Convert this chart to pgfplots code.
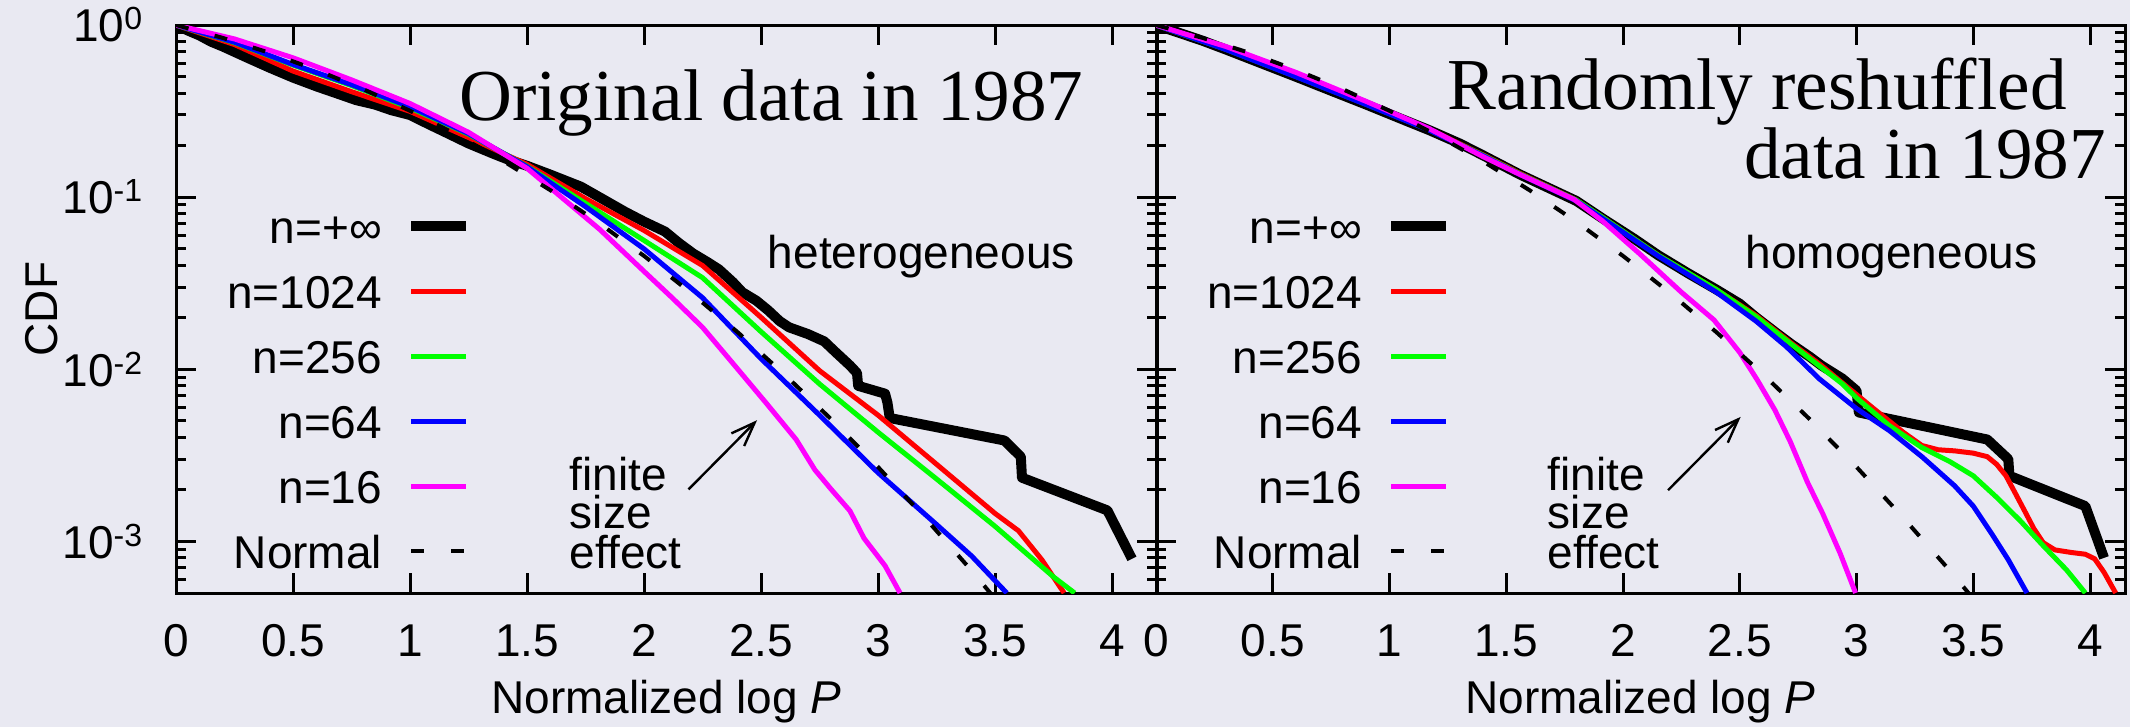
\documentclass[border=0pt]{standalone}
\usepackage{fontspec}
\setmainfont{Liberation Sans}
\newfontfamily\seriffont{Liberation Serif}
\usepackage{pgfplots}
\pgfplotsset{compat=1.18}
\usetikzlibrary{arrows.meta}

\definecolor{bgpanel}{RGB}{233,233,242}
\definecolor{cred}{RGB}{255,0,0}
\definecolor{cgreen}{RGB}{0,255,0}
\definecolor{cblue}{RGB}{0,0,255}
\definecolor{cmag}{RGB}{255,0,255}

\newcommand{\tenpow}[1]{10\raisebox{3pt}{\fontsize{8pt}{8pt}\selectfont#1}}
\newcommand{\lbl}{\fontsize{11.5pt}{13pt}\selectfont}
\newcommand{\ttl}{\seriffont\fontsize{18.3pt}{20pt}\selectfont}

\tikzset{
  ninf/.style={black, line width=2.5pt, line join=round},
  n1024/.style={cred, line width=1.25pt},
  n256/.style={cgreen, line width=1.25pt},
  n64/.style={cblue, line width=1.25pt},
  n16/.style={cmag, line width=1.25pt},
  gauss/.style={black, line width=1pt, dash pattern=on 3.25pt off 6.75pt},
}
\pgfplotsset{legend image code/.code={\draw[#1] (0pt,0pt) -- (13.75pt,0pt);}}

\begin{document}
\begin{tikzpicture}
\path[use as bounding box, fill=bgpanel] (0,0) rectangle (532.5pt,181.75pt);

%% left panel: original data
\begin{axis}[at={(44pt,33.5pt)}, anchor=south west,
  scale only axis, width=245.25pt, height=142pt,
  ymode=log, ymin=5e-4, ymax=1, xmin=0, xmax=4.192,
  xtick={0,0.5,1,1.5,2,2.5,3,3.5,4},
  xticklabels={0,0.5,1,1.5,2,2.5,3,3.5,4},
  ytick={0.001,0.01,0.1,1},
  yticklabels={\tenpow{-3},\tenpow{-2},\tenpow{-1},\tenpow{0}},
  minor ytick={0.0005,0.0006,0.0007,0.0008,0.0009,
    0.002,0.003,0.004,0.005,0.006,0.007,0.008,0.009,
    0.02,0.03,0.04,0.05,0.06,0.07,0.08,0.09,
    0.2,0.3,0.4,0.5,0.6,0.7,0.8,0.9},
  tick align=inside, xtick pos=both, ytick pos=both,
  major tick length=5pt, minor tick length=2.5pt,
  tick style={black, line width=0.75pt},
  axis line style={line width=0.75pt},
  tick label style={font=\lbl, inner sep=0pt},
  xticklabel style={anchor=base, yshift=-15.75pt},
  yticklabel style={anchor=east, xshift=-8.25pt},
  xlabel={Normalized log \textit{P}},
  x label style={at={(rel axis cs:0.5,-0.2113)}, anchor=base, inner sep=0pt, font=\lbl},
  ylabel={CDF},
  y label style={at={(rel axis cs:-0.1371,0.5)}, anchor=center,
    inner sep=0pt, font=\lbl},
  legend style={draw=none, fill=none, inner sep=0pt, outer sep=0pt,
    at={(0.3012,0.676)}, anchor=north east, font=\lbl, row sep=7.75pt,
    column sep=6.1pt, nodes={inner sep=0pt, text height=8.5pt, text depth=0pt}},
  legend cell align=right, legend plot pos=right]
\addplot[ninf] coordinates {
  (0,1) (0.05,0.93) (0.1,0.87) (0.15,0.8) (0.2,0.75) (0.3,0.65) (0.4,0.565)
  (0.5,0.495) (0.6,0.44) (0.7,0.395) (0.77,0.366) (0.85,0.345) (0.92,0.32)
  (1.0,0.30) (1.08,0.265) (1.16,0.235) (1.25,0.205) (1.35,0.18) (1.42,0.165)
  (1.5,0.152) (1.6,0.135) (1.73,0.115) (1.82,0.098) (1.92,0.082) (2.0,0.072)
  (2.09,0.063) (2.15,0.054) (2.21,0.047) (2.27,0.042) (2.32,0.038)
  (2.38,0.032) (2.42,0.028) (2.48,0.025) (2.53,0.022) (2.58,0.019)
  (2.62,0.0175) (2.7,0.016) (2.77,0.0145) (2.82,0.0125) (2.88,0.0105)
  (2.91,0.0095) (2.915,0.0080) (3.03,0.0072) (3.04,0.0064) (3.05,0.0052)
  (3.54,0.00385) (3.61,0.0031) (3.615,0.00234) (3.98,0.00151) (4.085,0.00079)};
\addplot[n1024] coordinates {
  (0,1) (0.25,0.77) (0.5,0.54) (0.75,0.41) (1.0,0.315) (1.25,0.222)
  (1.5,0.155) (1.75,0.098) (2.0,0.064) (2.25,0.040) (2.5,0.020) (2.75,0.0098)
  (3.0,0.0054) (3.25,0.0028) (3.5,0.00145) (3.6,0.00115) (3.7,0.00078)
  (3.795,0.0005)};
\addplot[n256] coordinates {
  (0,1) (0.25,0.79) (0.5,0.585) (0.75,0.445) (1.0,0.33) (1.25,0.232)
  (1.5,0.151) (1.75,0.092) (2.0,0.056) (2.25,0.034) (2.5,0.0165) (2.75,0.0082)
  (3.0,0.0043) (3.25,0.0023) (3.5,0.00122) (3.75,0.00062) (3.84,0.0005)};
\addplot[n64] coordinates {
  (0,1) (0.25,0.795) (0.5,0.59) (0.75,0.45) (1.0,0.335) (1.25,0.234)
  (1.5,0.15) (1.75,0.088) (2.0,0.050) (2.25,0.026) (2.5,0.0115) (2.75,0.0054)
  (3.0,0.0025) (3.25,0.00125) (3.4,0.00082) (3.55,0.0005)};
\addplot[n16] coordinates {
  (0,1) (0.25,0.83) (0.5,0.645) (0.75,0.48) (1.0,0.35) (1.25,0.238)
  (1.5,0.147) (1.81,0.065) (2.0,0.037) (2.12,0.026) (2.25,0.0175)
  (2.39,0.0104) (2.52,0.0064) (2.65,0.0039) (2.73,0.0026) (2.8,0.0020)
  (2.88,0.0015) (2.94,0.00104) (3.03,0.00072) (3.094,0.0005)};
\addplot[gauss] coordinates {
  (0,1) (0.2,0.8415) (0.4,0.6892) (0.6,0.5485) (0.8,0.4237) (1.0,0.3173)
  (1.2,0.2301) (1.4,0.1615) (1.6,0.1096) (1.8,0.0719) (2.0,0.0455)
  (2.2,0.0278) (2.4,0.0164) (2.6,0.00932) (2.8,0.00511) (3.0,0.00270)
  (3.2,0.00137) (3.4,0.000674) (3.6,0.000318)};
\legend{n=+∞,n=1024,n=256,n=64,n=16,Normal}
\node[anchor=base, inner sep=0pt, font=\ttl] at (rel axis cs:0.607,0.8327) {Original data in 1987};
\node[anchor=base west, inner sep=0pt, font=\lbl] at (rel axis cs:0.6025,0.5722) {heterogeneous};
\node[anchor=base west, inner sep=0pt, font=\lbl] at (rel axis cs:0.4006,0.1813) {finite};
\node[anchor=base west, inner sep=0pt, font=\lbl] at (rel axis cs:0.4006,0.1144) {size};
\node[anchor=base west, inner sep=0pt, font=\lbl] at (rel axis cs:0.4006,0.0440) {effect};
\draw[line width=0.6pt, -{Straight Barb[length=6pt,width=4.5pt]}]
  (axis cs:2.19,0.0020) -- (axis cs:2.483,0.00505);
\end{axis}

%% right panel: reshuffled data
\begin{axis}[at={(289pt,33.5pt)}, anchor=south west,
  scale only axis, width=242.25pt, height=142pt,
  ymode=log, ymin=5e-4, ymax=1, xmin=0, xmax=4.15,
  xtick={0,0.5,1,1.5,2,2.5,3,3.5,4},
  xticklabels={0,0.5,1,1.5,2,2.5,3,3.5,4},
  ytick={0.001,0.01,0.1,1},
  yticklabels={},
  minor ytick={0.0005,0.0006,0.0007,0.0008,0.0009,
    0.002,0.003,0.004,0.005,0.006,0.007,0.008,0.009,
    0.02,0.03,0.04,0.05,0.06,0.07,0.08,0.09,
    0.2,0.3,0.4,0.5,0.6,0.7,0.8,0.9},
  tick align=inside, xtick pos=both, ytick pos=both,
  major tick length=5pt, minor tick length=2.5pt,
  tick style={black, line width=0.75pt},
  axis line style={line width=0.75pt},
  tick label style={font=\lbl, inner sep=0pt},
  xticklabel style={anchor=base, yshift=-15.75pt},
  xlabel={Normalized log \textit{P}},
  x label style={at={(rel axis cs:0.5,-0.2113)}, anchor=base, inner sep=0pt, font=\lbl},
  legend style={draw=none, fill=none, inner sep=0pt, outer sep=0pt,
    at={(0.3049,0.676)}, anchor=north east, font=\lbl, row sep=7.75pt,
    column sep=6.1pt, nodes={inner sep=0pt, text height=8.5pt, text depth=0pt}},
  legend cell align=right, legend plot pos=right]
\addplot[ninf] coordinates {
  (0,1) (0.1,0.9) (0.2,0.81) (0.3,0.72) (0.45,0.6) (0.6,0.50) (0.75,0.415)
  (0.9,0.345) (1.05,0.285) (1.17,0.245) (1.3,0.205) (1.4,0.175) (1.56,0.135)
  (1.7,0.11) (1.8,0.095) (1.92,0.074) (2.05,0.057) (2.15,0.046) (2.28,0.036)
  (2.4,0.029) (2.5,0.024) (2.57,0.020) (2.65,0.0165) (2.72,0.014)
  (2.8,0.0118) (2.85,0.0105) (2.94,0.0088) (3.0,0.0075) (3.01,0.0056)
  (3.56,0.0039) (3.65,0.0030) (3.655,0.0024) (3.98,0.0016) (4.06,0.0008)};
\addplot[n1024] coordinates {
  (0,1) (0.3,0.725) (0.6,0.505) (0.9,0.35) (1.17,0.248) (1.4,0.176)
  (1.56,0.137) (1.8,0.096) (1.92,0.075) (2.15,0.046) (2.4,0.029)
  (2.57,0.0205) (2.72,0.0142) (2.85,0.0105) (2.94,0.0083) (3.08,0.0058)
  (3.2,0.0043) (3.28,0.0036) (3.35,0.0034) (3.42,0.00335) (3.5,0.00325)
  (3.56,0.0031) (3.6,0.0028) (3.64,0.0024) (3.68,0.0019) (3.72,0.0015)
  (3.76,0.00118) (3.8,0.00098) (3.85,0.00089) (3.92,0.00086) (3.98,0.00084)
  (4.02,0.00079) (4.06,0.00066) (4.11,0.0005)};
\addplot[n256] coordinates {
  (0,1) (0.3,0.722) (0.6,0.502) (0.9,0.347) (1.17,0.246) (1.4,0.175)
  (1.56,0.136) (1.8,0.096) (1.92,0.075) (2.15,0.046) (2.4,0.029)
  (2.57,0.0202) (2.72,0.014) (2.85,0.0102) (2.94,0.0082) (3.0,0.0068)
  (3.14,0.0047) (3.28,0.0035) (3.4,0.0029) (3.5,0.0024) (3.6,0.0018)
  (3.7,0.00132) (3.8,0.00094) (3.9,0.00068) (3.98,0.0005)};
\addplot[n64] coordinates {
  (0,1) (0.3,0.72) (0.6,0.50) (0.9,0.345) (1.17,0.245) (1.4,0.174)
  (1.56,0.135) (1.8,0.095) (1.92,0.074) (2.15,0.0455) (2.4,0.028)
  (2.57,0.019) (2.7,0.0135) (2.84,0.0088) (3.0,0.0059) (3.14,0.0044)
  (3.28,0.0031) (3.42,0.0021) (3.5,0.0016) (3.58,0.0011) (3.65,0.00078)
  (3.73,0.0005)};
\addplot[n16] coordinates {
  (0,1) (0.3,0.75) (0.6,0.53) (0.9,0.36) (1.17,0.25) (1.4,0.172)
  (1.56,0.135) (1.79,0.097) (1.91,0.073) (2.07,0.047) (2.25,0.028)
  (2.39,0.0193) (2.5,0.0125) (2.574,0.0087) (2.65,0.0058) (2.716,0.0038)
  (2.79,0.0022) (2.855,0.00145) (2.93,0.00085) (2.996,0.0005)};
\addplot[gauss] coordinates {
  (0,1) (0.2,0.8415) (0.4,0.6892) (0.6,0.5485) (0.8,0.4237) (1.0,0.3173)
  (1.2,0.2301) (1.4,0.1615) (1.6,0.1096) (1.8,0.0719) (2.0,0.0455)
  (2.2,0.0278) (2.4,0.0164) (2.6,0.00932) (2.8,0.00511) (3.0,0.00270)
  (3.2,0.00137) (3.4,0.000674) (3.6,0.000318)};
\legend{n=+∞,n=1024,n=256,n=64,n=16,Normal}
\node[anchor=base, inner sep=0pt, font=\ttl] at (rel axis cs:0.6205,0.8504) {Randomly reshuffled};
\node[anchor=base, inner sep=0pt, font=\ttl] at (rel axis cs:0.7936,0.7306) {data in 1987};
\node[anchor=base west, inner sep=0pt, font=\lbl] at (rel axis cs:0.6078,0.5722) {homogeneous};
\node[anchor=base west, inner sep=0pt, font=\lbl] at (rel axis cs:0.4035,0.1813) {finite};
\node[anchor=base west, inner sep=0pt, font=\lbl] at (rel axis cs:0.4035,0.1144) {size};
\node[anchor=base west, inner sep=0pt, font=\lbl] at (rel axis cs:0.4035,0.0440) {effect};
\draw[line width=0.6pt, -{Straight Barb[length=6pt,width=4.5pt]}]
  (axis cs:2.193,0.00198) -- (axis cs:2.504,0.00528);
\end{axis}
\end{tikzpicture}
\end{document}
